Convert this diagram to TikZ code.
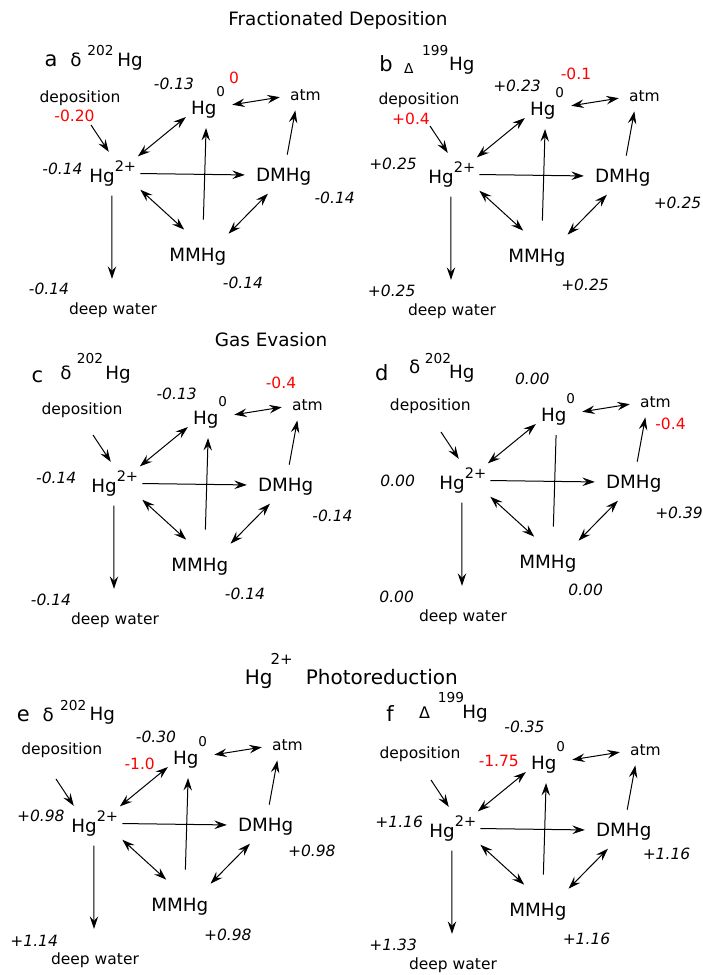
\documentclass[tikz,border=0pt]{standalone}
\usepackage{fontspec}
\setmainfont{DejaVu Sans}
\usetikzlibrary{arrows.meta}
\definecolor{valred}{RGB}{255,0,0}
\newcommand{\supr}[3]{\raisebox{#1}{\fontsize{#2}{16}\selectfont #3}}
\tikzset{
  sp/.style={inner sep=2pt, font=\fontsize{18.3}{21}\selectfont},
  sm/.style={inner sep=2pt, font=\fontsize{15.5}{18}\selectfont},
  lbl/.style={inner sep=0pt, anchor=base, font=\fontsize{15.5}{18}\selectfont},
  val/.style={inner sep=0pt, font=\fontsize{15.5}{18}\selectfont\itshape},
  rval/.style={inner sep=0pt, text=valred, font=\fontsize{15.5}{18}\selectfont},
  letter/.style={inner sep=0pt, anchor=base, font=\fontsize{21}{24}\selectfont},
  iso/.style={inner sep=0pt, anchor=base, font=\fontsize{18.3}{21}\selectfont},
  isosup/.style={inner sep=0pt, anchor=base, font=\fontsize{13.7}{16}\selectfont},
  ttl/.style={inner sep=0pt, anchor=base, font=\fontsize{18.4}{21}\selectfont},
  tip/.tip={Stealth[length=12.5pt,width=8.5pt,inset=4.5pt]},
  con/.style={line width=1pt, -tip},
  dcon/.style={line width=1pt, tip-tip},
  plain/.style={line width=1pt},
}
% #1 prefix, #2 dx, #3 dy, #4 style of MMHg->Hg0, #5 #6 offset of deposition arrow
\newcommand{\hgnet}[6]{%
  \node[sp, anchor=base west] (#1hg2) at ({#2+87.2},{#3+182.7}) {Hg\supr{11.4pt}{14.5}{2+}};
  \node[sp, anchor=base west] (#1hg0) at ({#2+188.9},{#3+114}) {Hg\supr{17.3pt}{13.5}{0}};
  \node[sp, anchor=base west] (#1dmhg) at ({#2+253.9},{#3+181.7}) {DMHg};
  \node[sp, anchor=base west] (#1mmhg) at ({#2+167.2},{#3+261.7}) {MMHg};
  \node[sm, anchor=base west] (#1atm) at ({#2+287.8},{#3+100}) {atm};
  \node[sm, anchor=base] (#1dw) at ({#2+113},{#3+314.5}) {deep water};
  \coordinate (#1dep) at ({#2+91+(#5)},{#3+125+(#6)});
  \draw[dcon] ([shift={(-0.5,-2)}]#1hg2.north east) -- ([shift={(-3,-3)}]#1hg0.south west);
  \draw[con] ([shift={(2,0)}]#1hg2.east) -- ([shift={(-9,-2)}]#1dmhg.west);
  \draw[dcon] ([shift={(2,1)}]#1hg2.south east) -- ([shift={(17,-16.5)}]#1mmhg.north west);
  \draw[#4] ([shift={(5.5,-26.5)}]#1mmhg.north) -- ([shift={(-2,8)}]#1hg0.south);
  \draw[dcon] ([shift={(0,-12.5)}]#1mmhg.north east) -- ([shift={(14,6)}]#1dmhg.south west);
  \draw[con] ([shift={(3.5,-11.5)}]#1dmhg.north) -- ([shift={(-10,8)}]#1atm.south);
  \draw[dcon] ([shift={(5,2.5)}]#1hg0.east) -- ([shift={(-8,2.5)}]#1atm.west);
  \draw[con] ([shift={(-1,7)}]#1hg2.south) -- ([shift={(-1,-21.7)}]#1dw.north);
  \draw[con] (#1dep) -- ([shift={({-4+(#5)},{-6.5+(#6)})}]#1hg2.north);
}
\begin{document}
\begin{tikzpicture}[x=1pt,y=-1pt]
\fill[white] (0,0) rectangle (703,975);
\useasboundingbox (0,0) rectangle (703,975);

% titles
\node[ttl] (t1) at (338,25.7) {Fractionated Deposition};
\node[ttl] (t2) at (271,346) {Gas Evasion};
\node[inner sep=0pt, anchor=base west, font=\fontsize{20}{23}\selectfont] (t3hg) at (244.7,684.2) {Hg};
\node[inner sep=0pt, anchor=base west, font=\fontsize{15}{18}\selectfont] (t3sup) at (270.5,664.7) {2+};
\node[inner sep=0pt, anchor=base west, font=\fontsize{20}{23}\selectfont] (t3ph) at (305.7,684.2) {Photoreduction};

% networks
\hgnet{a}{0}{0}{con}{0}{0}
\hgnet{b}{339}{1}{con}{0}{0}
\hgnet{c}{2}{310}{con}{0}{0}
\hgnet{d}{350}{307}{plain}{0}{0}
\hgnet{e}{-18}{650}{con}{-17}{4}
\hgnet{f}{340}{655}{con}{0}{0}

% panel a
\node[letter] (la) at (51,66.7) {a};
\node[iso] (la1) at (76,66.7) {δ};
\node[isosup] (la2) at (100.5,55) {202};
\node[iso] (la3) at (130,66.7) {Hg};
\node[lbl] (adept) at (80,102) {deposition};
\node[rval] (ar1) at (74.5,116) {-0.20};
\node[rval] (ar2) at (234,78) {0};
\node[val] (av1) at (174,84) {-0.13};
\node[val] (av2) at (62.5,169) {-0.14};
\node[val] (av3) at (334.7,197.5) {-0.14};
\node[val] (av4) at (243,282.5) {-0.14};
\node[val] (av5) at (49,288.5) {-0.14};

% panel b
\node[letter] (lb) at (386,71.7) {b};
\node[inner sep=0pt, anchor=base, font=\fontsize{13.7}{16}\selectfont] (lb1) at (408.7,73.3) {Δ};
\node[isosup] (lb2) at (435.3,55.7) {199};
\node[iso] (lb3) at (461.7,70) {Hg};
\node[lbl] (bdept) at (419,104.7) {deposition};
\node[rval] (br1) at (411,119) {+0.4};
\node[rval] (br2) at (576,74) {-0.1};
\node[val] (bv1) at (517,86) {+0.23};
\node[val] (bv2) at (393,164) {+0.25};
\node[val] (bv3) at (677.5,202.5) {+0.25};
\node[val] (bv4) at (585,285) {+0.25};
\node[val] (bv5) at (391.7,291) {+0.25};

% panel c
\node[letter] (lc) at (37.5,382.7) {c};
\node[iso] (lc1) at (66,379.3) {δ};
\node[isosup] (lc2) at (90,363.3) {202};
\node[iso] (lc3) at (118,379.3) {Hg};
\node[lbl] (cdept) at (82,414.7) {deposition};
\node[rval] (cr1) at (281,383) {-0.4};
\node[val] (cv1) at (176.7,394) {-0.13};
\node[val] (cv2) at (56.3,477.5) {-0.14};
\node[val] (cv3) at (332.5,516) {-0.14};
\node[val] (cv4) at (245,593.5) {-0.14};
\node[val] (cv5) at (51,600) {-0.14};

% panel d
\node[letter] (ld) at (381.7,380) {d};
\node[iso] (ld1) at (414.7,373.3) {δ};
\node[isosup] (ld2) at (438,363.3) {202};
\node[iso] (ld3) at (461.7,378) {Hg};
\node[lbl] (ddept) at (430.3,410.7) {deposition};
\node[rval] (dr1) at (670.5,424) {-0.4};
\node[val] (dv1) at (532.3,378.5) {0.00};
\node[val] (dv2) at (397.7,481) {0.00};
\node[val] (dv3) at (679,512.5) {+0.39};
\node[val] (dv4) at (585.7,590) {0.00};
\node[val] (dv5) at (396.7,596.5) {0.00};

% panel e
\node[letter] (le) at (23.3,721.7) {e};
\node[iso] (le1) at (48.3,721.7) {δ};
\node[isosup] (le2) at (73.3,710) {202};
\node[iso] (le3) at (102.3,720) {Hg};
\node[lbl] (edept) at (61.7,754.7) {deposition};
\node[rval] (er1) at (139.7,764) {-1.0};
\node[val] (ev1) at (156,736.5) {-0.30};
\node[val] (ev2) at (40.8,816) {+0.98};
\node[val] (ev3) at (311.8,851) {+0.98};
\node[val] (ev4) at (227.8,934.5) {+0.98};
\node[val] (ev5) at (34.2,941) {+1.14};

% panel f
\node[letter] (lf) at (390,721.7) {f};
\node[inner sep=0pt, anchor=base, font=\fontsize{16}{19}\selectfont] (lf1) at (424.5,718.3) {Δ};
\node[isosup] (lf2) at (451,702.7) {199};
\node[iso] (lf3) at (475,718.3) {Hg};
\node[lbl] (fdept) at (420,758.7) {deposition};
\node[rval] (fr1) at (498.8,761) {-1.75};
\node[val] (fv1) at (524.5,726.5) {-0.35};
\node[val] (fv2) at (399.2,822) {+1.16};
\node[val] (fv3) at (666.5,854) {+1.16};
\node[val] (fv4) at (586.5,938.5) {+1.16};
\node[val] (fv5) at (393.2,944.5) {+1.33};
\end{tikzpicture}
\end{document}
